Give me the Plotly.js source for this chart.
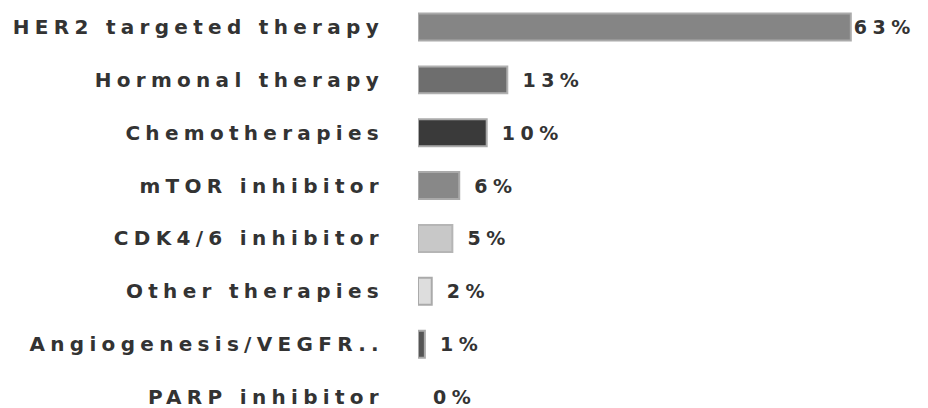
<!DOCTYPE html>
<html>
<head>
<meta charset="utf-8">
<script src="https://cdn.plot.ly/plotly-3.0.1.min.js"></script>
<style>
  body { margin: 0; background: #fff; }
  #chart { width: 928px; height: 408px; }
  .ytick text { letter-spacing: 5.3px; }
  .bartext text, text.bartext { letter-spacing: 5.5px; }
</style>
</head>
<body>
<div id="chart"></div>
<script>
// therapy categories, top to bottom
var therapies = ['HER2 targeted therapy', 'Hormonal therapy', 'Chemotherapies', 'mTOR inhibitor',
                 'CDK4/6 inhibitor', 'Other therapies', 'Angiogenesis/VEGFR..', 'PARP inhibitor'];
var shares = [63, 13, 10, 6, 5, 2, 1, 0];
var fillColors = ['#858585', '#6e6e6e', '#3a3a3a', '#888888', '#c8c8c8', '#dddddd', '#555555', '#888888'];
var edgeColors = ['#aaaaaa', '#b0b0b0', '#aaaaaa', '#aaaaaa', '#b5b5b5', '#aaaaaa', '#aaaaaa', '#aaaaaa'];

var labels = [];
var edgeWidths = [];
for (var i = 0; i < shares.length; i++) {
  labels.push((i == 0 ? '' : '\u00a0') + shares[i] + '%');
  edgeWidths.push(shares[i] > 0 ? 2 : 0);
}

var trace = {
  type: 'bar',
  orientation: 'h',
  x: shares,
  y: therapies,
  text: labels,
  textposition: 'outside',
  cliponaxis: false,
  constraintext: 'none',
  textfont: { family: 'DejaVu Sans', size: 19, color: '#333', weight: 'bold' },
  marker: {
    color: fillColors,
    line: { color: edgeColors, width: edgeWidths }
  },
  hoverinfo: 'none'
};

var layout = {
  width: 928,
  height: 408,
  margin: { l: 418, r: 3, t: 3, b: 0 },
  paper_bgcolor: '#fff',
  plot_bgcolor: '#fff',
  showlegend: false,
  bargap: 0.49,
  font: { family: 'DejaVu Sans', color: '#333' },
  xaxis: {
    range: [0, 73.8],
    visible: false,
    showgrid: false,
    zeroline: false
  },
  yaxis: {
    type: 'category',
    range: [7.208, -0.454],
    showgrid: false,
    zeroline: false,
    showline: false,
    ticks: '',
    automargin: false,
    ticklabelstandoff: 33,
    tickfont: { family: 'DejaVu Sans', size: 20, color: '#333', weight: 'bold' }
  }
};

Plotly.newPlot('chart', [trace], layout, { displayModeBar: false, staticPlot: true });
</script>
</body>
</html>
